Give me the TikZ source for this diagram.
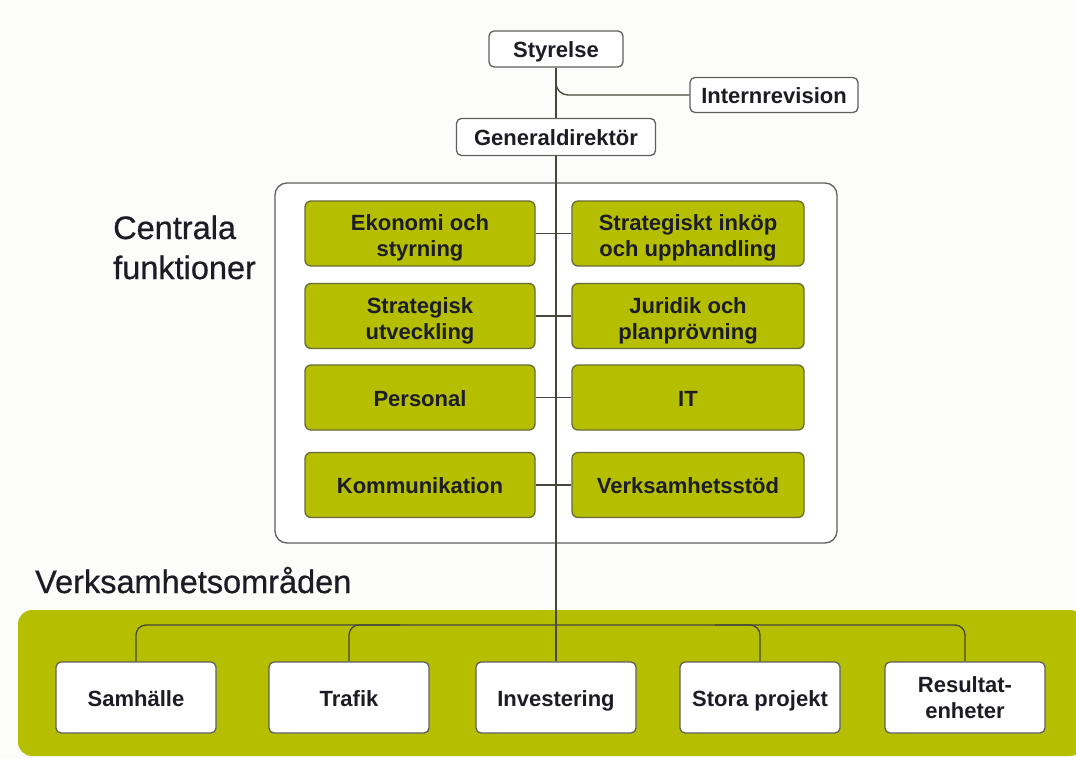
\documentclass[tikz,border=0pt]{standalone}
\usepackage{fontspec}
\setmainfont{Liberation Sans}
\newfontfamily\headfont[FakeBold=0.6]{Liberation Sans}
\usetikzlibrary{calc}

\definecolor{pagebg}{RGB}{252,252,250}
\definecolor{olive}{RGB}{182,190,0}
\definecolor{olivedge}{RGB}{105,108,55}
\definecolor{greyedge}{RGB}{95,95,95}
\definecolor{wire}{RGB}{70,70,60}
\definecolor{ink}{RGB}{28,28,36}

\tikzset{
  boxfont/.style={font=\fontsize{22}{26}\selectfont\bfseries},
  oneline/.style={text height=17pt, text depth=0pt},
  twoline/.style={text height=46pt, text depth=0pt},
  wbox/.style={draw=greyedge, fill=white, line width=1.3pt, rounded corners=5pt,
    inner sep=0pt, align=center, text=ink, boxfont},
  gbox/.style={draw=olivedge, fill=olive, line width=1.3pt, rounded corners=6pt,
    inner sep=0pt, align=center, text=ink, minimum height=65pt, boxfont},
  ubox/.style={wbox, minimum width=160pt, minimum height=71pt},
  conn/.style={draw=wire, line width=1.3pt},
  heading/.style={text=ink, inner sep=0pt, font=\headfont\fontsize{32.5}{40}\selectfont}
}

\begin{document}
\begin{tikzpicture}[x=1pt,y=-1pt]
  \useasboundingbox (0,0) rectangle (1076,758);
  \clip (0,0) rectangle (1076,758);
  \fill[pagebg] (0,0) rectangle (1076,758);

  % band behind the business areas
  \fill[olive, rounded corners=14pt] (18,610) rectangle (1084,756);

  % frame around the central functions
  \draw[draw=greyedge, fill=white, line width=1.3pt, rounded corners=12pt]
    (275,183) rectangle (837,543);

  % headings
  \node[heading, anchor=base west] (hc1) at (113,239) {Centrala};
  \node[heading, anchor=base west] (hc2) at (113,279) {funktioner};
  \node[heading, anchor=base west] (hv) at (35,593) {Verksamhetsområden};

  % management
  \node[wbox, oneline, minimum width=134pt, minimum height=36pt] (sty) at (556,49) {Styrelse};
  \node[wbox, oneline, minimum width=168pt, minimum height=35pt] (irev) at (774,95) {Internrevision};
  \node[wbox, oneline, minimum width=199pt, minimum height=37pt] (gd) at (556,137) {Generaldirektör};

  % central functions
  \node[gbox, twoline, minimum width=230pt] (eko) at (420,233.5) {Ekonomi och\\styrning};
  \node[gbox, twoline, minimum width=232pt] (ink) at (688,233.5) {Strategiskt inköp\\och upphandling};
  \node[gbox, twoline, minimum width=230pt] (sut) at (420,316) {Strategisk\\utveckling};
  \node[gbox, twoline, minimum width=232pt] (jur) at (688,316) {Juridik och\\planprövning};
  \node[gbox, oneline, minimum width=230pt] (per) at (420,397.5) {Personal};
  \node[gbox, oneline, minimum width=232pt] (it) at (688,397.5) {IT};
  \node[gbox, oneline, minimum width=230pt] (kom) at (420,485) {Kommunikation};
  \node[gbox, oneline, minimum width=232pt] (vst) at (688,485) {Verksamhetsstöd};

  % business areas
  \node[ubox, oneline] (sam) at (136,697.5) {Samhälle};
  \node[ubox, oneline] (tra) at (349,697.5) {Trafik};
  \node[ubox, oneline] (inv) at (556,697.5) {Investering};
  \node[ubox, oneline] (sto) at (760,697.5) {Stora projekt};
  \node[ubox, text height=41pt, text depth=0pt] (res) at (965,697.5) {Resultat-\\enheter};

  % connectors
  \coordinate (irj) at (556,84);
  \coordinate (bus) at (556,625);
  \coordinate (tj) at (400,625);
  \coordinate (sj) at (715,625);

  \draw[conn] (sty.south) -- (gd.north);
  \draw[conn, rounded corners=12pt] (irj) |- (irev.west);
  \draw[conn] (gd.south) -- (inv.north);

  \draw[conn] (eko.east) -- (ink.west);
  \draw[conn] (sut.east) -- (jur.west);
  \draw[conn] (per.east) -- (it.west);
  \draw[conn] (kom.east) -- (vst.west);

  \draw[conn, rounded corners=10pt] (sam.north) |- (res.north |- bus) -- (res.north);
  \draw[conn, rounded corners=10pt] (tra.north) |- (tj);
  \draw[conn, rounded corners=10pt] (sj) -| (sto.north);
\end{tikzpicture}
\end{document}
